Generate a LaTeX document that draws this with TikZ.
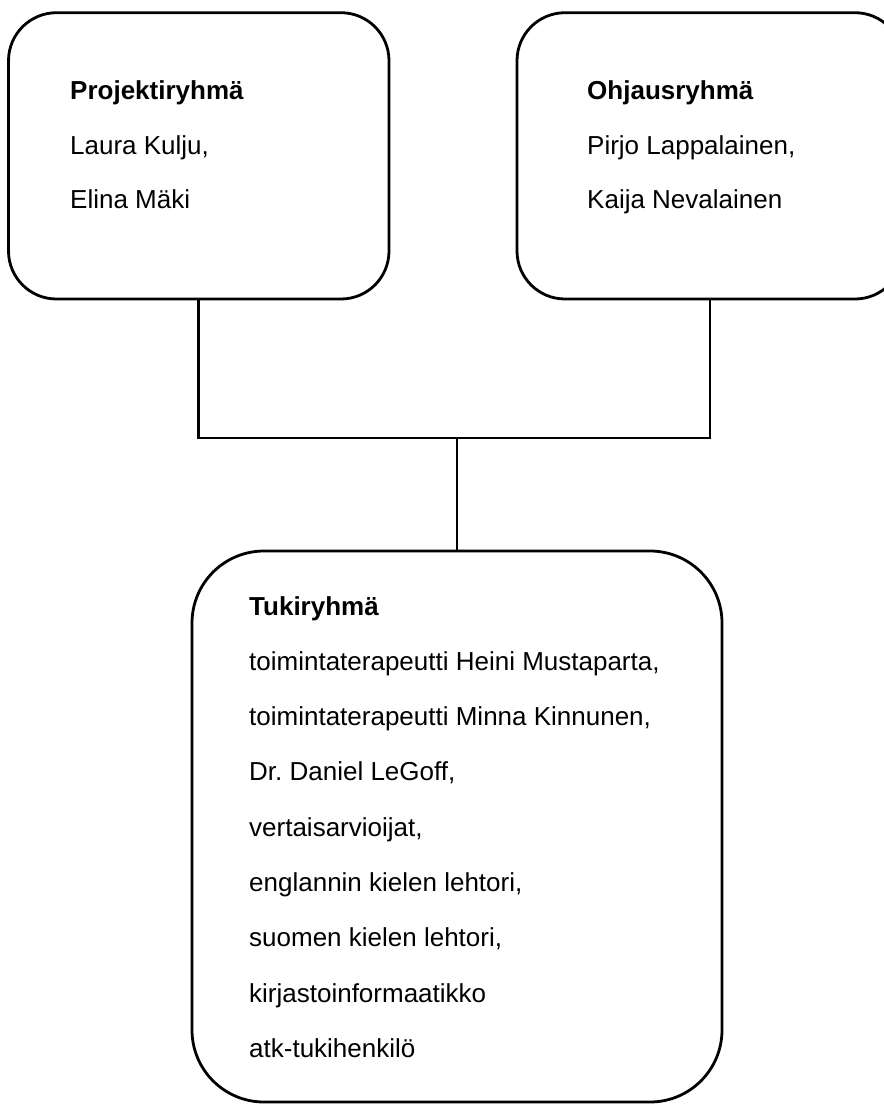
\documentclass[tikz,border=0pt]{standalone}
\usepackage{fontspec}
\setmainfont{Liberation Sans}
\frenchspacing
\begin{document}
\begin{tikzpicture}[x=1pt,y=-1pt,
  box/.style={draw, line width=2.8pt, rounded corners=48pt, inner sep=0pt},
  bigbox/.style={box, rounded corners=72pt},
  conn/.style={line width=2.8pt},
  txt/.style={anchor=base west, inner sep=0pt, font=\fontsize{26}{31}\selectfont},
  ttl/.style={anchor=base west, inner sep=0pt, font=\fontsize{26}{31}\selectfont\bfseries}]
\useasboundingbox (0,0) rectangle (884,1104);
\node[box, minimum width=380.5pt, minimum height=286.3pt] (proj) at (198.75,155.85) {};
\node[box, minimum width=386pt, minimum height=286.3pt] (ohj) at (710,155.85) {};
\node[bigbox, minimum width=530pt, minimum height=551pt] (tuki) at (457,826.5) {};
\coordinate (mid) at (457,438);
\draw[conn] (proj.south) |- (mid) -| (ohj.south);
\draw[conn] (mid) -- (tuki.north);
\node[ttl] (p0) at (70,99) {Projektiryhmä};
\node[txt] (p1) at (70,154) {Laura Kulju,};
\node[txt] (p2) at (70,208) {Elina Mäki};
\node[ttl] (o0) at (587,99) {Ohjausryhmä};
\node[txt] (o1) at (587,154) {Pirjo Lappalainen,};
\node[txt] (o2) at (587,208) {Kaija Nevalainen};
\node[ttl] (t0) at (249,615) {Tukiryhmä};
\node[txt] (t1) at (249,670.3) {toimintaterapeutti Heini Mustaparta,};
\node[txt] (t2) at (249,725.6) {toimintaterapeutti Minna Kinnunen,};
\node[txt] (t3) at (249,780.9) {Dr. Daniel LeGoff,};
\node[txt] (t4) at (249,836.2) {vertaisarvioijat,};
\node[txt] (t5) at (249,891.5) {englannin kielen lehtori,};
\node[txt] (t6) at (249,946.8) {suomen kielen lehtori,};
\node[txt] (t7) at (249,1002.1) {kirjastoinformaatikko};
\node[txt] (t8) at (249,1057.4) {atk-tukihenkilö};
\end{tikzpicture}
\end{document}
